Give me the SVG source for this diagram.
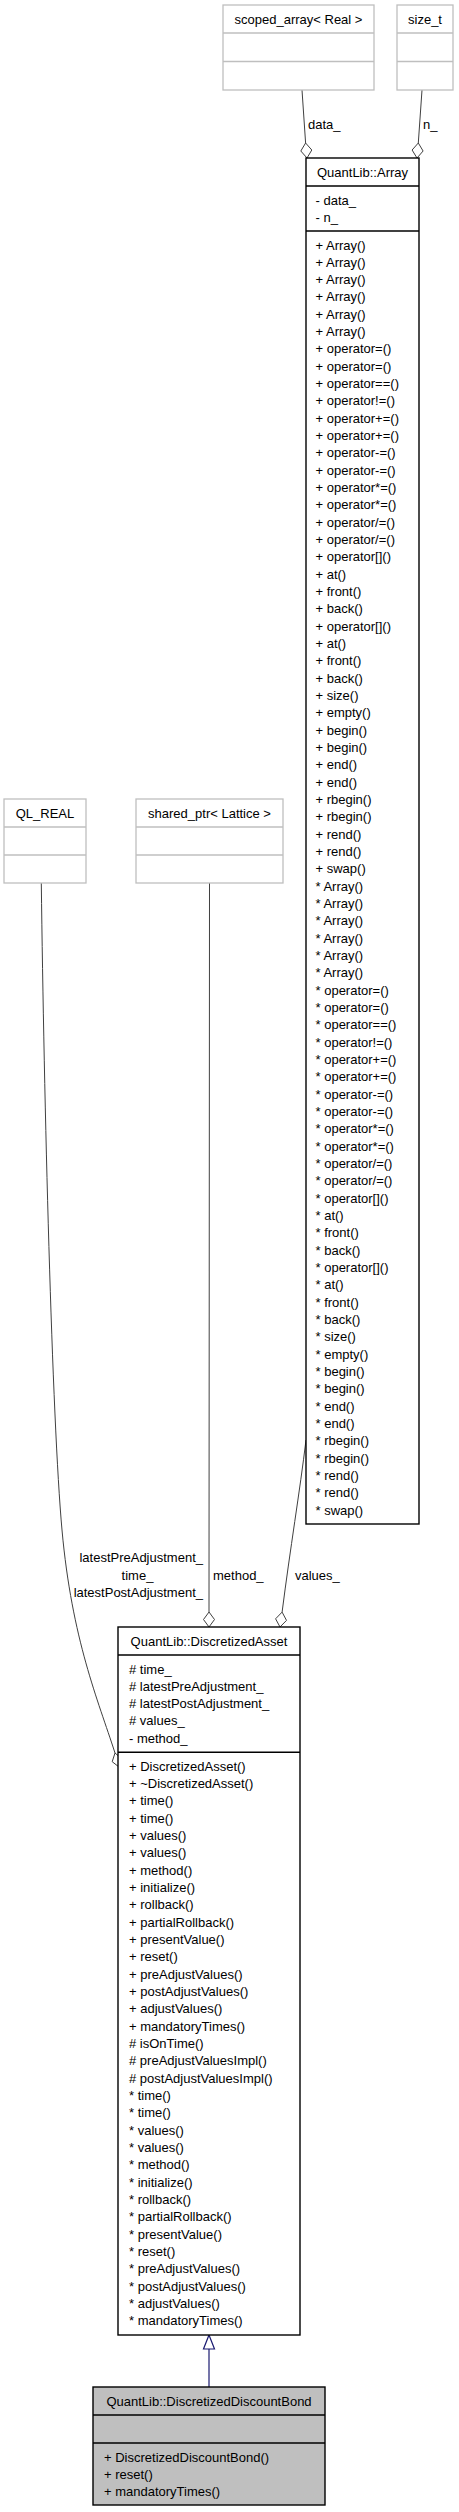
<svg xmlns="http://www.w3.org/2000/svg" width="459" height="2512" viewBox="0 0 459 2512">
<style>
text{font-family:"Liberation Sans",Arial,Helvetica,sans-serif;font-size:13px;fill:#000}
.c{text-anchor:middle}
.r{text-anchor:end}
.gb{fill:#fff;stroke:#bfbfbf;stroke-width:1.3}
.gl{stroke:#bfbfbf;stroke-width:1.3}
.mb{fill:#fff;stroke:#000;stroke-width:1.4}
.ml{stroke:#000;stroke-width:1.4}
.fb{fill:#bfbfbf;stroke:#000;stroke-width:1.4}
.e{fill:none;stroke:#404040;stroke-width:1}
.d{fill:#fff;stroke:#404040;stroke-width:1}
</style>
<rect width="459" height="2512" fill="#fff"/>
<g id="connectors">
<path class="e" d="M302,90 L305.6,143"/>
<polygon class="d" points="307,158 311.8,150 305.6,143 300.8,151"/>
<path class="e" d="M422,90 L418.3,143"/>
<polygon class="d" points="417,158 423.1,151 418.3,143 412.1,150"/>
<path class="e" d="M209.5,883 L209,1612"/>
<polygon class="d" points="209,1627 214.5,1619.5 209,1612 203.5,1619.5"/>
<path class="e" d="M306,1440 C300,1490 290,1550 282.1,1612.1"/>
<polygon class="d" points="280,1627 286.5,1620.4 282.1,1612.1 275.6,1618.8"/>
<path class="e" d="M41.3,883 C44,1100 52,1420 62,1530 C72,1640 98,1700 115,1753"/>
<polygon class="d" points="119,1767 121.8,1758.9 115,1753 112.2,1761.7"/>
<path d="M209,2387 L209,2349" fill="none" stroke="#191970" stroke-width="1.2"/>
<polygon points="209,2335 214.5,2349 203.5,2349" fill="#fff" stroke="#191970" stroke-width="1.2"/>
<text x="308" y="128.5">data_</text>
<text x="423" y="128.5">n_</text>
<text class="r" x="203" y="1562">latestPreAdjustment_</text>
<text class="c" x="137.5" y="1579.5">time_</text>
<text class="r" x="203" y="1596.5">latestPostAdjustment_</text>
<text x="213" y="1579.5">method_</text>
<text x="295" y="1579.5">values_</text>
</g>
<g id="scoped_array">
<rect class="gb" x="223" y="5" width="151" height="85"/>
<line class="gl" x1="223" y1="33" x2="374" y2="33"/>
<line class="gl" x1="223" y1="61.5" x2="374" y2="61.5"/>
<text class="c" x="298.5" y="23.5">scoped_array&lt; Real &gt;</text>
</g>
<g id="size_t">
<rect class="gb" x="397" y="5" width="56" height="85"/>
<line class="gl" x1="397" y1="33" x2="453" y2="33"/>
<line class="gl" x1="397" y1="61.5" x2="453" y2="61.5"/>
<text class="c" x="425" y="23.5">size_t</text>
</g>
<g id="QL_REAL">
<rect class="gb" x="4" y="799" width="82" height="84"/>
<line class="gl" x1="4" y1="827" x2="86" y2="827"/>
<line class="gl" x1="4" y1="855" x2="86" y2="855"/>
<text class="c" x="45" y="817.5">QL_REAL</text>
</g>
<g id="shared_ptr_Lattice">
<rect class="gb" x="136" y="799" width="147" height="84"/>
<line class="gl" x1="136" y1="827" x2="283" y2="827"/>
<line class="gl" x1="136" y1="855" x2="283" y2="855"/>
<text class="c" x="209.5" y="817.5">shared_ptr&lt; Lattice &gt;</text>
</g>
<g id="Array">
<rect class="mb" x="306" y="158" width="113" height="1366"/>
<line class="ml" x1="306" y1="186" x2="419" y2="186"/>
<line class="ml" x1="306" y1="231" x2="419" y2="231"/>
<text class="c" x="362.5" y="176.5">QuantLib::Array</text>
<text x="315.5" y="204.8">- data_</text>
<text x="315.5" y="222.2">- n_</text>
<text x="315.5" y="232.167"><tspan x="315.5" dy="17.333">+ Array()</tspan><tspan x="315.5" dy="17.333">+ Array()</tspan><tspan x="315.5" dy="17.333">+ Array()</tspan><tspan x="315.5" dy="17.333">+ Array()</tspan><tspan x="315.5" dy="17.333">+ Array()</tspan><tspan x="315.5" dy="17.333">+ Array()</tspan><tspan x="315.5" dy="17.333">+ operator=()</tspan><tspan x="315.5" dy="17.333">+ operator=()</tspan><tspan x="315.5" dy="17.333">+ operator==()</tspan><tspan x="315.5" dy="17.333">+ operator!=()</tspan><tspan x="315.5" dy="17.333">+ operator+=()</tspan><tspan x="315.5" dy="17.333">+ operator+=()</tspan><tspan x="315.5" dy="17.333">+ operator-=()</tspan><tspan x="315.5" dy="17.333">+ operator-=()</tspan><tspan x="315.5" dy="17.333">+ operator*=()</tspan><tspan x="315.5" dy="17.333">+ operator*=()</tspan><tspan x="315.5" dy="17.333">+ operator/=()</tspan><tspan x="315.5" dy="17.333">+ operator/=()</tspan><tspan x="315.5" dy="17.333">+ operator[]()</tspan><tspan x="315.5" dy="17.333">+ at()</tspan><tspan x="315.5" dy="17.333">+ front()</tspan><tspan x="315.5" dy="17.333">+ back()</tspan><tspan x="315.5" dy="17.333">+ operator[]()</tspan><tspan x="315.5" dy="17.333">+ at()</tspan><tspan x="315.5" dy="17.333">+ front()</tspan><tspan x="315.5" dy="17.333">+ back()</tspan><tspan x="315.5" dy="17.333">+ size()</tspan><tspan x="315.5" dy="17.333">+ empty()</tspan><tspan x="315.5" dy="17.333">+ begin()</tspan><tspan x="315.5" dy="17.333">+ begin()</tspan><tspan x="315.5" dy="17.333">+ end()</tspan><tspan x="315.5" dy="17.333">+ end()</tspan><tspan x="315.5" dy="17.333">+ rbegin()</tspan><tspan x="315.5" dy="17.333">+ rbegin()</tspan><tspan x="315.5" dy="17.333">+ rend()</tspan><tspan x="315.5" dy="17.333">+ rend()</tspan><tspan x="315.5" dy="17.333">+ swap()</tspan><tspan x="315.5" dy="17.333">* Array()</tspan><tspan x="315.5" dy="17.333">* Array()</tspan><tspan x="315.5" dy="17.333">* Array()</tspan><tspan x="315.5" dy="17.333">* Array()</tspan><tspan x="315.5" dy="17.333">* Array()</tspan><tspan x="315.5" dy="17.333">* Array()</tspan><tspan x="315.5" dy="17.333">* operator=()</tspan><tspan x="315.5" dy="17.333">* operator=()</tspan><tspan x="315.5" dy="17.333">* operator==()</tspan><tspan x="315.5" dy="17.333">* operator!=()</tspan><tspan x="315.5" dy="17.333">* operator+=()</tspan><tspan x="315.5" dy="17.333">* operator+=()</tspan><tspan x="315.5" dy="17.333">* operator-=()</tspan><tspan x="315.5" dy="17.333">* operator-=()</tspan><tspan x="315.5" dy="17.333">* operator*=()</tspan><tspan x="315.5" dy="17.333">* operator*=()</tspan><tspan x="315.5" dy="17.333">* operator/=()</tspan><tspan x="315.5" dy="17.333">* operator/=()</tspan><tspan x="315.5" dy="17.333">* operator[]()</tspan><tspan x="315.5" dy="17.333">* at()</tspan><tspan x="315.5" dy="17.333">* front()</tspan><tspan x="315.5" dy="17.333">* back()</tspan><tspan x="315.5" dy="17.333">* operator[]()</tspan><tspan x="315.5" dy="17.333">* at()</tspan><tspan x="315.5" dy="17.333">* front()</tspan><tspan x="315.5" dy="17.333">* back()</tspan><tspan x="315.5" dy="17.333">* size()</tspan><tspan x="315.5" dy="17.333">* empty()</tspan><tspan x="315.5" dy="17.333">* begin()</tspan><tspan x="315.5" dy="17.333">* begin()</tspan><tspan x="315.5" dy="17.333">* end()</tspan><tspan x="315.5" dy="17.333">* end()</tspan><tspan x="315.5" dy="17.333">* rbegin()</tspan><tspan x="315.5" dy="17.333">* rbegin()</tspan><tspan x="315.5" dy="17.333">* rend()</tspan><tspan x="315.5" dy="17.333">* rend()</tspan><tspan x="315.5" dy="17.333">* swap()</tspan></text>
</g>
<g id="DiscretizedAsset">
<rect class="mb" x="118" y="1627" width="182" height="708"/>
<line class="ml" x1="118" y1="1655" x2="300" y2="1655"/>
<line class="ml" x1="118" y1="1752.3" x2="300" y2="1752.3"/>
<text class="c" x="209" y="1645.5">QuantLib::DiscretizedAsset</text>
<text x="129" y="1656.167"><tspan x="129" dy="17.333"># time_</tspan><tspan x="129" dy="17.333"># latestPreAdjustment_</tspan><tspan x="129" dy="17.333"># latestPostAdjustment_</tspan><tspan x="129" dy="17.333"># values_</tspan><tspan x="129" dy="17.333">- method_</tspan></text>
<text x="129" y="1753.5"><tspan x="129" dy="17.333">+ DiscretizedAsset()</tspan><tspan x="129" dy="17.333">+ ~DiscretizedAsset()</tspan><tspan x="129" dy="17.333">+ time()</tspan><tspan x="129" dy="17.333">+ time()</tspan><tspan x="129" dy="17.333">+ values()</tspan><tspan x="129" dy="17.333">+ values()</tspan><tspan x="129" dy="17.333">+ method()</tspan><tspan x="129" dy="17.333">+ initialize()</tspan><tspan x="129" dy="17.333">+ rollback()</tspan><tspan x="129" dy="17.333">+ partialRollback()</tspan><tspan x="129" dy="17.333">+ presentValue()</tspan><tspan x="129" dy="17.333">+ reset()</tspan><tspan x="129" dy="17.333">+ preAdjustValues()</tspan><tspan x="129" dy="17.333">+ postAdjustValues()</tspan><tspan x="129" dy="17.333">+ adjustValues()</tspan><tspan x="129" dy="17.333">+ mandatoryTimes()</tspan><tspan x="129" dy="17.333"># isOnTime()</tspan><tspan x="129" dy="17.333"># preAdjustValuesImpl()</tspan><tspan x="129" dy="17.333"># postAdjustValuesImpl()</tspan><tspan x="129" dy="17.333">* time()</tspan><tspan x="129" dy="17.333">* time()</tspan><tspan x="129" dy="17.333">* values()</tspan><tspan x="129" dy="17.333">* values()</tspan><tspan x="129" dy="17.333">* method()</tspan><tspan x="129" dy="17.333">* initialize()</tspan><tspan x="129" dy="17.333">* rollback()</tspan><tspan x="129" dy="17.333">* partialRollback()</tspan><tspan x="129" dy="17.333">* presentValue()</tspan><tspan x="129" dy="17.333">* reset()</tspan><tspan x="129" dy="17.333">* preAdjustValues()</tspan><tspan x="129" dy="17.333">* postAdjustValues()</tspan><tspan x="129" dy="17.333">* adjustValues()</tspan><tspan x="129" dy="17.333">* mandatoryTimes()</tspan></text>
</g>
<g id="DiscretizedDiscountBond">
<rect class="fb" x="93" y="2387" width="232" height="118"/>
<line class="ml" x1="93" y1="2415" x2="325" y2="2415"/>
<line class="ml" x1="93" y1="2443" x2="325" y2="2443"/>
<text class="c" x="209" y="2405.5">QuantLib::DiscretizedDiscountBond</text>
<text x="104" y="2444.167"><tspan x="104" dy="17.333">+ DiscretizedDiscountBond()</tspan><tspan x="104" dy="17.333">+ reset()</tspan><tspan x="104" dy="17.333">+ mandatoryTimes()</tspan></text>
</g>
</svg>
